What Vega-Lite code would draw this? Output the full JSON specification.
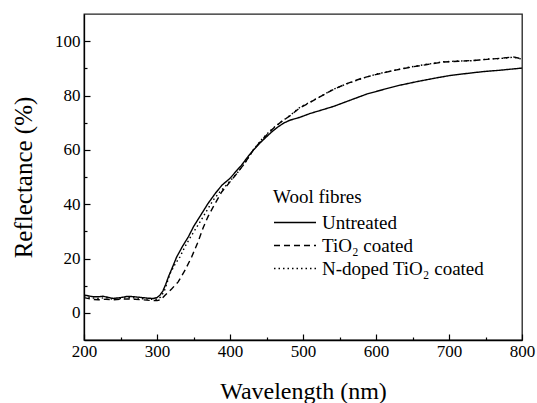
{
  "$schema": "https://vega.github.io/schema/vega-lite/v6.json",
  "width": 438,
  "height": 326,
  "autosize": {"type": "none"},
  "padding": {"left": 84, "top": 14, "right": 15, "bottom": 63},
  "background": "white",
  "config": {
    "view": {"stroke": "#222", "strokeWidth": 1.3},
    "font": "Times New Roman, Liberation Serif, serif"
  },
  "datasets": {
    "curves": [
      {"series": "Untreated", "wl": 200, "r": 6.6},
      {"series": "Untreated", "wl": 205, "r": 6.3},
      {"series": "Untreated", "wl": 213, "r": 5.9},
      {"series": "Untreated", "wl": 220, "r": 5.9},
      {"series": "Untreated", "wl": 226, "r": 6.1},
      {"series": "Untreated", "wl": 233, "r": 5.7},
      {"series": "Untreated", "wl": 240, "r": 5.3},
      {"series": "Untreated", "wl": 250, "r": 5.6},
      {"series": "Untreated", "wl": 258, "r": 6.0},
      {"series": "Untreated", "wl": 265, "r": 6.0},
      {"series": "Untreated", "wl": 277, "r": 5.7},
      {"series": "Untreated", "wl": 287, "r": 5.4},
      {"series": "Untreated", "wl": 295, "r": 5.3},
      {"series": "Untreated", "wl": 300, "r": 5.6},
      {"series": "Untreated", "wl": 304, "r": 6.5},
      {"series": "Untreated", "wl": 308, "r": 8.0},
      {"series": "Untreated", "wl": 312, "r": 10.5},
      {"series": "Untreated", "wl": 316, "r": 13.5},
      {"series": "Untreated", "wl": 320, "r": 16.0},
      {"series": "Untreated", "wl": 327, "r": 20.6},
      {"series": "Untreated", "wl": 335, "r": 24.5},
      {"series": "Untreated", "wl": 343, "r": 28.0},
      {"series": "Untreated", "wl": 350, "r": 31.7},
      {"series": "Untreated", "wl": 360, "r": 36.0},
      {"series": "Untreated", "wl": 370, "r": 40.3},
      {"series": "Untreated", "wl": 380, "r": 44.0},
      {"series": "Untreated", "wl": 389, "r": 47.0},
      {"series": "Untreated", "wl": 400, "r": 49.5},
      {"series": "Untreated", "wl": 408, "r": 52.0},
      {"series": "Untreated", "wl": 416, "r": 54.4},
      {"series": "Untreated", "wl": 424, "r": 57.3},
      {"series": "Untreated", "wl": 432, "r": 59.9},
      {"series": "Untreated", "wl": 441, "r": 62.5},
      {"series": "Untreated", "wl": 450, "r": 64.8},
      {"series": "Untreated", "wl": 458, "r": 66.8},
      {"series": "Untreated", "wl": 466, "r": 68.5},
      {"series": "Untreated", "wl": 474, "r": 69.9},
      {"series": "Untreated", "wl": 482, "r": 70.9},
      {"series": "Untreated", "wl": 496, "r": 72.0},
      {"series": "Untreated", "wl": 510, "r": 73.4},
      {"series": "Untreated", "wl": 525, "r": 74.6},
      {"series": "Untreated", "wl": 542, "r": 76.0},
      {"series": "Untreated", "wl": 565, "r": 78.3},
      {"series": "Untreated", "wl": 587, "r": 80.5},
      {"series": "Untreated", "wl": 610, "r": 82.2},
      {"series": "Untreated", "wl": 633, "r": 83.8},
      {"series": "Untreated", "wl": 656, "r": 85.1},
      {"series": "Untreated", "wl": 679, "r": 86.3},
      {"series": "Untreated", "wl": 700, "r": 87.3},
      {"series": "Untreated", "wl": 724, "r": 88.1},
      {"series": "Untreated", "wl": 747, "r": 88.8},
      {"series": "Untreated", "wl": 770, "r": 89.3},
      {"series": "Untreated", "wl": 785, "r": 89.7},
      {"series": "Untreated", "wl": 800, "r": 90.1},

      {"series": "TiO₂ coated", "wl": 200, "r": 5.6},
      {"series": "TiO₂ coated", "wl": 210, "r": 5.0},
      {"series": "TiO₂ coated", "wl": 220, "r": 4.8},
      {"series": "TiO₂ coated", "wl": 230, "r": 5.0},
      {"series": "TiO₂ coated", "wl": 240, "r": 4.8},
      {"series": "TiO₂ coated", "wl": 250, "r": 5.0},
      {"series": "TiO₂ coated", "wl": 260, "r": 5.1},
      {"series": "TiO₂ coated", "wl": 270, "r": 5.0},
      {"series": "TiO₂ coated", "wl": 280, "r": 4.8},
      {"series": "TiO₂ coated", "wl": 290, "r": 4.6},
      {"series": "TiO₂ coated", "wl": 300, "r": 4.5},
      {"series": "TiO₂ coated", "wl": 305, "r": 4.8},
      {"series": "TiO₂ coated", "wl": 311, "r": 6.5},
      {"series": "TiO₂ coated", "wl": 320, "r": 8.8},
      {"series": "TiO₂ coated", "wl": 329, "r": 11.4},
      {"series": "TiO₂ coated", "wl": 338, "r": 15.5},
      {"series": "TiO₂ coated", "wl": 347.5, "r": 20.6},
      {"series": "TiO₂ coated", "wl": 356, "r": 26.0},
      {"series": "TiO₂ coated", "wl": 363.5, "r": 31.5},
      {"series": "TiO₂ coated", "wl": 370, "r": 35.5},
      {"series": "TiO₂ coated", "wl": 377, "r": 39.0},
      {"series": "TiO₂ coated", "wl": 388.6, "r": 44.5},
      {"series": "TiO₂ coated", "wl": 400, "r": 48.2},
      {"series": "TiO₂ coated", "wl": 410, "r": 51.5},
      {"series": "TiO₂ coated", "wl": 420, "r": 55.0},
      {"series": "TiO₂ coated", "wl": 432, "r": 60.0},
      {"series": "TiO₂ coated", "wl": 445, "r": 64.0},
      {"series": "TiO₂ coated", "wl": 458, "r": 67.6},
      {"series": "TiO₂ coated", "wl": 470, "r": 70.3},
      {"series": "TiO₂ coated", "wl": 482, "r": 72.5},
      {"series": "TiO₂ coated", "wl": 496, "r": 75.5},
      {"series": "TiO₂ coated", "wl": 510, "r": 77.5},
      {"series": "TiO₂ coated", "wl": 523, "r": 79.5},
      {"series": "TiO₂ coated", "wl": 540, "r": 82.0},
      {"series": "TiO₂ coated", "wl": 560, "r": 84.4},
      {"series": "TiO₂ coated", "wl": 580, "r": 86.3},
      {"series": "TiO₂ coated", "wl": 601, "r": 87.8},
      {"series": "TiO₂ coated", "wl": 624, "r": 89.2},
      {"series": "TiO₂ coated", "wl": 647, "r": 90.4},
      {"series": "TiO₂ coated", "wl": 670, "r": 91.4},
      {"series": "TiO₂ coated", "wl": 692, "r": 92.3},
      {"series": "TiO₂ coated", "wl": 713, "r": 92.6},
      {"series": "TiO₂ coated", "wl": 733, "r": 92.9},
      {"series": "TiO₂ coated", "wl": 752, "r": 93.3},
      {"series": "TiO₂ coated", "wl": 770, "r": 93.7},
      {"series": "TiO₂ coated", "wl": 788, "r": 94.2},
      {"series": "TiO₂ coated", "wl": 800, "r": 93.5},

      {"series": "N-doped TiO₂ coated", "wl": 200, "r": 6.2},
      {"series": "N-doped TiO₂ coated", "wl": 210, "r": 5.5},
      {"series": "N-doped TiO₂ coated", "wl": 220, "r": 5.3},
      {"series": "N-doped TiO₂ coated", "wl": 230, "r": 5.6},
      {"series": "N-doped TiO₂ coated", "wl": 240, "r": 5.0},
      {"series": "N-doped TiO₂ coated", "wl": 250, "r": 5.3},
      {"series": "N-doped TiO₂ coated", "wl": 260, "r": 5.6},
      {"series": "N-doped TiO₂ coated", "wl": 270, "r": 5.5},
      {"series": "N-doped TiO₂ coated", "wl": 280, "r": 5.2},
      {"series": "N-doped TiO₂ coated", "wl": 290, "r": 5.0},
      {"series": "N-doped TiO₂ coated", "wl": 300, "r": 5.0},
      {"series": "N-doped TiO₂ coated", "wl": 305, "r": 5.8},
      {"series": "N-doped TiO₂ coated", "wl": 310, "r": 8.0},
      {"series": "N-doped TiO₂ coated", "wl": 318, "r": 14.5},
      {"series": "N-doped TiO₂ coated", "wl": 325, "r": 18.0},
      {"series": "N-doped TiO₂ coated", "wl": 331.5, "r": 20.6},
      {"series": "N-doped TiO₂ coated", "wl": 338, "r": 24.2},
      {"series": "N-doped TiO₂ coated", "wl": 345, "r": 27.5},
      {"series": "N-doped TiO₂ coated", "wl": 352, "r": 30.5},
      {"series": "N-doped TiO₂ coated", "wl": 359, "r": 33.5},
      {"series": "N-doped TiO₂ coated", "wl": 368, "r": 37.5},
      {"series": "N-doped TiO₂ coated", "wl": 377, "r": 41.5},
      {"series": "N-doped TiO₂ coated", "wl": 386, "r": 44.5},
      {"series": "N-doped TiO₂ coated", "wl": 395, "r": 47.0},
      {"series": "N-doped TiO₂ coated", "wl": 400, "r": 48.5},
      {"series": "N-doped TiO₂ coated", "wl": 410, "r": 51.5},
      {"series": "N-doped TiO₂ coated", "wl": 420, "r": 55.0},
      {"series": "N-doped TiO₂ coated", "wl": 432, "r": 60.0},
      {"series": "N-doped TiO₂ coated", "wl": 445, "r": 64.3},
      {"series": "N-doped TiO₂ coated", "wl": 458, "r": 67.8},
      {"series": "N-doped TiO₂ coated", "wl": 470, "r": 70.3},
      {"series": "N-doped TiO₂ coated", "wl": 482, "r": 72.6},
      {"series": "N-doped TiO₂ coated", "wl": 496, "r": 75.7},
      {"series": "N-doped TiO₂ coated", "wl": 510, "r": 77.6},
      {"series": "N-doped TiO₂ coated", "wl": 523, "r": 79.5},
      {"series": "N-doped TiO₂ coated", "wl": 540, "r": 82.1},
      {"series": "N-doped TiO₂ coated", "wl": 560, "r": 84.3},
      {"series": "N-doped TiO₂ coated", "wl": 580, "r": 86.2},
      {"series": "N-doped TiO₂ coated", "wl": 601, "r": 87.9},
      {"series": "N-doped TiO₂ coated", "wl": 624, "r": 89.2},
      {"series": "N-doped TiO₂ coated", "wl": 647, "r": 90.5},
      {"series": "N-doped TiO₂ coated", "wl": 670, "r": 91.5},
      {"series": "N-doped TiO₂ coated", "wl": 692, "r": 92.4},
      {"series": "N-doped TiO₂ coated", "wl": 713, "r": 92.7},
      {"series": "N-doped TiO₂ coated", "wl": 733, "r": 92.8},
      {"series": "N-doped TiO₂ coated", "wl": 752, "r": 93.4},
      {"series": "N-doped TiO₂ coated", "wl": 770, "r": 93.6},
      {"series": "N-doped TiO₂ coated", "wl": 788, "r": 94.1},
      {"series": "N-doped TiO₂ coated", "wl": 800, "r": 93.4}
    ]
  },
  "data": {"name": "curves"},
  "mark": {"type": "line", "color": "black", "strokeWidth": 1.4, "clip": true},
  "encoding": {
    "x": {
      "field": "wl", "type": "quantitative",
      "scale": {"domain": [200, 800], "nice": false, "zero": false},
      "axis": {
        "title": "Wavelength (nm)",
        "titleFont": "Times New Roman, Liberation Serif, serif", "titleFontSize": 24, "titleFontWeight": "normal", "titleColor": "black",
        "titlePadding": 17,
        "values": [200, 250, 300, 350, 400, 450, 500, 550, 600, 650, 700, 750, 800],
        "labelExpr": "datum.value % 100 === 0 ? datum.label : ''",
        "labelFont": "Times New Roman, Liberation Serif, serif", "labelFontSize": 17, "labelColor": "black",
        "labelPadding": 9, "labelFlush": false, "labelOverlap": false,
        "tickSize": {"condition": {"test": "datum.value % 100 === 0", "value": -6}, "value": -3},
        "tickColor": "black", "tickWidth": 1.2,
        "domainColor": "black", "domainWidth": 1.3,
        "grid": false
      }
    },
    "y": {
      "field": "r", "type": "quantitative",
      "scale": {"domain": [-10, 110], "nice": false, "zero": false},
      "axis": {
        "title": "Reflectance (%)",
        "titleFont": "Times New Roman, Liberation Serif, serif", "titleFontSize": 25, "titleFontWeight": "normal", "titleColor": "black",
        "titlePadding": 18,
        "values": [0, 10, 20, 30, 40, 50, 60, 70, 80, 90, 100],
        "labelExpr": "datum.value % 20 === 0 ? datum.label : ''",
        "labelFont": "Times New Roman, Liberation Serif, serif", "labelFontSize": 17, "labelColor": "black",
        "labelPadding": 10, "labelFlush": false, "labelOverlap": false,
        "tickSize": {"condition": {"test": "datum.value % 20 === 0", "value": -6}, "value": -3},
        "tickColor": "black", "tickWidth": 1.2,
        "domainColor": "black", "domainWidth": 1.3,
        "grid": false
      }
    },
    "strokeDash": {
      "field": "series", "type": "nominal",
      "scale": {
        "domain": ["Untreated", "TiO₂ coated", "N-doped TiO₂ coated"],
        "range": [[1, 0], [6, 4], [1.5, 3]]
      },
      "legend": {
        "title": "Wool fibres",
        "orient": "none", "legendX": 189, "legendY": 174,
        "titleFont": "Times New Roman, Liberation Serif, serif", "titleFontSize": 19, "titleFontWeight": "normal", "titleColor": "black",
        "titlePadding": 4,
        "labelFont": "Times New Roman, Liberation Serif, serif", "labelFontSize": 19, "labelColor": "black",
        "labelOffset": 5, "labelLimit": 400,
        "symbolType": "stroke", "symbolSize": 1764, "symbolStrokeWidth": 1.4, "symbolStrokeColor": "black",
        "clipHeight": 23,
        "rowPadding": 0
      }
    }
  }
}
